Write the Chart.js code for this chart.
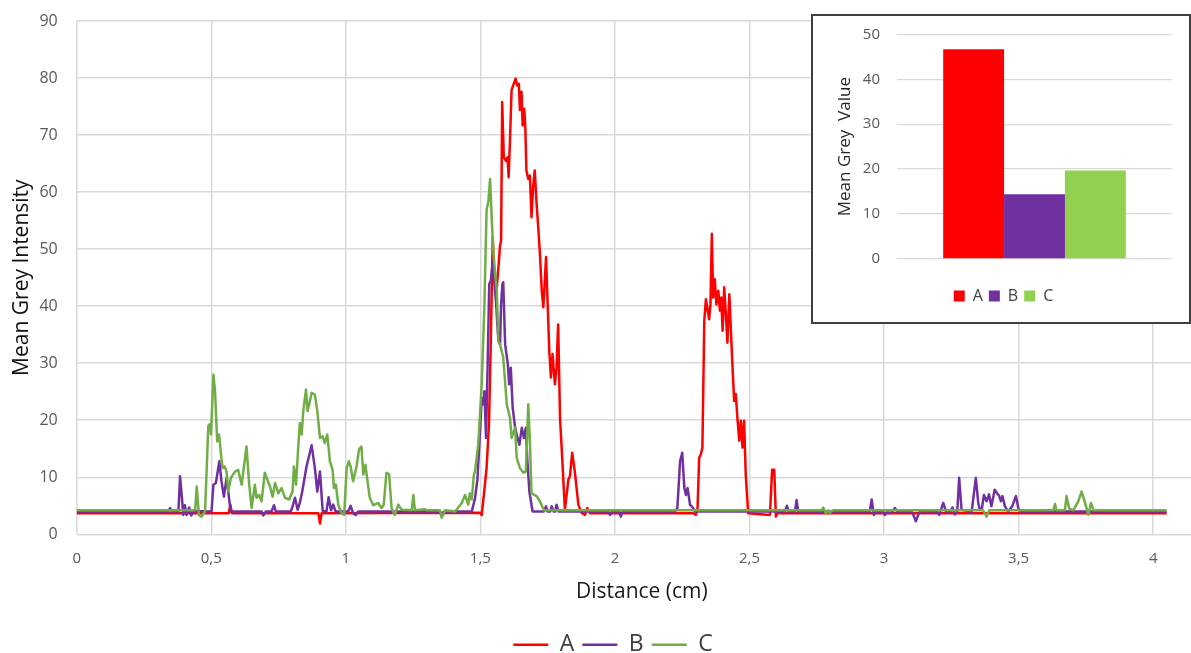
<!DOCTYPE html>
<html>
<head>
<meta charset="utf-8">
<title>Mean grey intensity profile</title>
<script src="https://cdn.jsdelivr.net/npm/chart.js@4/dist/chart.umd.min.js"></script>
<style>
    html, body { margin: 0; background: #fff; overflow: hidden; }
    #page { position: relative; width: 1191px; height: 653px; overflow: hidden; }
    #page canvas { display: block; }
    #insetBox {
        position: absolute; left: 811px; top: 14px;
        width: 376px; height: 306px;
        border: 2px solid #3f3f3f; background: #fff;
    }
</style>
</head>
<body>
<div id="page">
    <!-- plot runs a little past the right edge of the page -->
    <canvas id="chartProfile" width="1207" height="653"></canvas>
    <div id="insetBox"><canvas id="chartMean" width="376" height="306"></canvas></div>
</div>
<script>
// profile samples: [distance (cm), mean grey intensity]
const profileA = [
    [0, 3.7], [0.565, 3.7], [0.571, 5.2], [0.577, 3.7], [0.898, 3.7], [0.904, 1.9], [0.91, 3.7],
    [1.499, 3.8], [1.505, 3.4], [1.513, 6.9], [1.523, 11.6], [1.532, 19.3], [1.538, 32.2], [1.546, 52.1],
    [1.552, 44.5], [1.560, 42.7], [1.569, 48.0], [1.573, 50.6], [1.577, 51.5], [1.581, 75.8], [1.587, 66.1],
    [1.595, 65.5], [1.601, 66.1], [1.605, 62.6], [1.610, 69.1], [1.616, 77.9], [1.622, 78.7], [1.631, 79.9],
    [1.637, 78.7], [1.643, 79.0], [1.647, 74.4], [1.653, 77.6], [1.657, 71.7], [1.663, 74.6], [1.667, 71.4],
    [1.671, 63.8], [1.678, 62.3], [1.684, 62.9], [1.690, 55.6], [1.696, 60.9], [1.702, 63.8], [1.709, 57.9],
    [1.715, 53.8], [1.721, 49.4], [1.728, 42.7], [1.734, 39.8], [1.744, 48.6], [1.750, 40.3], [1.756, 32.2],
    [1.762, 27.5], [1.768, 31.6], [1.777, 26.3], [1.783, 29.2], [1.789, 36.8], [1.796, 20.4], [1.804, 13.4],
    [1.814, 4.3], [1.827, 9.6], [1.833, 10.2], [1.841, 14.3], [1.851, 11.0], [1.864, 5.2], [1.876, 3.8],
    [1.889, 3.4], [1.897, 4.6], [1.907, 3.7],
    [2.291, 3.7], [2.301, 3.4], [2.307, 4.6], [2.313, 13.4], [2.319, 14.0], [2.325, 15.2], [2.332, 37.4],
    [2.338, 41.2], [2.344, 39.5], [2.350, 37.7], [2.355, 40.3], [2.360, 52.7], [2.365, 41.5], [2.371, 44.7],
    [2.377, 40.3], [2.384, 42.7], [2.390, 39.2], [2.395, 41.5], [2.400, 35.7], [2.406, 43.3], [2.412, 38.6],
    [2.418, 33.6], [2.425, 42.1], [2.431, 35.7], [2.437, 29.2], [2.443, 23.4], [2.449, 24.6], [2.455, 20.4],
    [2.462, 16.4], [2.468, 19.9], [2.474, 15.2], [2.480, 19.9], [2.486, 10.5], [2.495, 3.7],
    [2.576, 3.4], [2.584, 11.3], [2.592, 11.3], [2.598, 3.1], [2.603, 3.7], [4.05, 3.7]
];

const profileB = [
    [0, 4.0], [0.340, 4.0], [0.347, 4.6], [0.353, 4.0], [0.378, 4.0], [0.384, 10.2], [0.391, 6.4],
    [0.396, 3.4], [0.402, 5.1], [0.408, 3.4], [0.418, 4.7], [0.426, 3.3], [0.433, 4.1],
    [0.501, 4.0], [0.508, 8.7], [0.517, 9.0], [0.524, 11.0], [0.530, 12.8], [0.538, 9.3], [0.547, 6.6],
    [0.557, 9.9], [0.566, 6.4], [0.572, 4.0], [0.687, 4.0], [0.693, 3.3], [0.703, 4.0], [0.724, 4.0],
    [0.733, 5.1], [0.740, 4.0], [0.795, 4.0], [0.801, 4.7], [0.811, 6.4], [0.821, 4.3], [0.829, 5.5],
    [0.838, 7.5], [0.854, 11.9], [0.873, 15.6], [0.885, 11.6], [0.894, 7.5], [0.904, 11.0], [0.914, 4.1],
    [0.928, 4.0], [0.936, 6.5], [0.945, 4.2], [0.953, 5.2], [0.962, 4.0], [1.009, 4.0], [1.018, 5.0],
    [1.027, 3.7], [1.037, 3.4], [1.046, 4.0], [1.345, 4.0], [1.356, 3.4], [1.365, 4.0],
    [1.468, 4.0], [1.480, 6.3], [1.489, 9.6], [1.498, 17.4], [1.505, 23.9], [1.511, 22.8], [1.515, 25.1],
    [1.521, 16.9], [1.527, 29.8], [1.533, 43.9], [1.539, 44.5], [1.546, 48.0], [1.551, 44.5], [1.558, 40.9],
    [1.563, 36.8], [1.567, 33.9], [1.573, 33.3], [1.577, 40.3], [1.582, 43.9], [1.585, 44.2], [1.592, 33.3],
    [1.602, 29.8], [1.607, 26.3], [1.613, 29.2], [1.620, 22.2], [1.629, 18.7], [1.638, 16.9], [1.645, 15.7],
    [1.654, 18.7], [1.662, 16.9], [1.669, 18.7], [1.674, 13.4], [1.682, 7.5], [1.694, 4.0],
    [1.736, 4.0], [1.744, 4.9], [1.749, 4.0], [1.760, 4.0], [1.765, 4.9], [1.772, 4.0], [1.778, 4.0],
    [1.783, 5.2], [1.790, 4.0], [1.975, 4.0], [1.982, 3.4], [1.988, 4.0], [2.015, 4.0], [2.022, 3.1],
    [2.028, 4.0], [2.223, 4.0], [2.232, 4.6], [2.242, 12.8], [2.250, 14.3], [2.258, 8.1], [2.264, 6.9],
    [2.270, 8.1], [2.279, 5.2], [2.289, 4.7], [2.297, 4.0], [2.632, 4.0], [2.639, 5.0], [2.645, 4.0],
    [2.669, 4.0], [2.675, 6.0], [2.681, 4.0], [2.756, 4.0], [2.762, 3.7], [2.768, 4.0],
    [2.947, 4.0], [2.954, 6.1], [2.962, 3.4], [2.972, 4.0], [2.997, 4.0], [3.003, 3.4], [3.012, 4.0],
    [3.022, 3.7], [3.031, 4.0], [3.040, 4.6], [3.049, 4.0], [3.102, 4.0], [3.108, 3.5], [3.118, 2.3],
    [3.127, 3.4], [3.133, 4.0], [3.197, 4.0], [3.205, 3.4], [3.220, 5.5], [3.230, 4.0], [3.247, 4.0],
    [3.254, 4.7], [3.263, 3.5], [3.272, 4.0], [3.279, 9.9], [3.288, 4.3], [3.319, 4.0], [3.325, 3.7],
    [3.331, 6.1], [3.341, 9.9], [3.350, 5.5], [3.356, 4.3], [3.363, 4.3], [3.371, 6.9], [3.381, 5.8],
    [3.390, 7.0], [3.399, 4.9], [3.411, 7.8], [3.420, 7.2], [3.428, 6.7], [3.434, 5.8], [3.440, 6.7],
    [3.449, 4.9], [3.461, 4.0], [3.476, 4.9], [3.490, 6.7], [3.500, 4.3], [3.507, 4.0], [4.05, 4.0]
];

const profileC = [
    [0, 4.2], [0.440, 4.2], [0.446, 8.4], [0.454, 3.4], [0.464, 3.1], [0.477, 4.0], [0.489, 19.0],
    [0.495, 19.3], [0.499, 17.5], [0.508, 28.0], [0.514, 25.1], [0.522, 16.3], [0.529, 17.5], [0.535, 14.6],
    [0.542, 11.6], [0.550, 11.9], [0.557, 11.0], [0.563, 7.5], [0.573, 9.9], [0.588, 11.0], [0.600, 11.3],
    [0.613, 8.7], [0.631, 15.4], [0.641, 8.7], [0.650, 4.6], [0.662, 8.7], [0.668, 6.4], [0.678, 6.9],
    [0.687, 5.8], [0.699, 10.8], [0.708, 9.6], [0.718, 8.4], [0.728, 6.6], [0.737, 9.0], [0.749, 7.2],
    [0.761, 8.1], [0.774, 6.4], [0.790, 6.1], [0.802, 7.5], [0.807, 11.9], [0.815, 8.7], [0.823, 15.1],
    [0.829, 19.5], [0.836, 17.5], [0.842, 21.6], [0.852, 25.4], [0.858, 21.6], [0.864, 22.8], [0.873, 24.8],
    [0.885, 24.5], [0.894, 21.6], [0.904, 16.9], [0.914, 17.2], [0.922, 16.0], [0.931, 17.5], [0.941, 12.8],
    [0.951, 11.3], [0.956, 8.1], [0.963, 8.7], [0.972, 5.2], [0.984, 3.7], [0.994, 3.4], [1.003, 11.6],
    [1.011, 12.8], [1.018, 11.9], [1.027, 9.3], [1.040, 11.9], [1.049, 14.9], [1.058, 15.4], [1.065, 10.5],
    [1.073, 12.2], [1.079, 9.9], [1.089, 6.4], [1.102, 5.1], [1.120, 5.5], [1.133, 4.6], [1.141, 5.2],
    [1.151, 10.8], [1.161, 10.5], [1.170, 4.6], [1.182, 3.4], [1.195, 5.2], [1.207, 4.3], [1.245, 4.2],
    [1.251, 6.9], [1.257, 4.2], [1.294, 4.4], [1.300, 4.2], [1.350, 4.2], [1.356, 2.9], [1.369, 4.2],
    [1.406, 4.0], [1.431, 5.5], [1.443, 6.9], [1.455, 5.2], [1.461, 7.2], [1.468, 6.1], [1.476, 10.5],
    [1.480, 11.0], [1.492, 15.7], [1.505, 26.3], [1.515, 40.3], [1.523, 56.8], [1.530, 58.5], [1.536, 62.3],
    [1.542, 55.6], [1.548, 49.7], [1.554, 46.2], [1.561, 42.7], [1.567, 33.9], [1.573, 33.3], [1.585, 31.0],
    [1.598, 22.8], [1.610, 20.4], [1.616, 16.9], [1.629, 18.7], [1.635, 13.4], [1.647, 11.6], [1.660, 10.8],
    [1.669, 11.0], [1.678, 22.8], [1.684, 16.4], [1.690, 7.2], [1.709, 6.7], [1.721, 5.8], [1.736, 4.2],
    [2.768, 4.2], [2.774, 4.7], [2.784, 3.7], [2.793, 4.2], [2.799, 3.8], [2.809, 4.2],
    [3.368, 4.2], [3.381, 3.1], [3.391, 4.2], [3.629, 4.2], [3.635, 5.3], [3.641, 4.2], [3.672, 4.2],
    [3.678, 6.7], [3.688, 4.5], [3.703, 4.2], [3.722, 5.8], [3.734, 7.5], [3.747, 5.5], [3.759, 3.4],
    [3.769, 5.5], [3.778, 4.2], [4.05, 4.2]
];

// inset: mean grey value per sample
const sampleNames = ['A', 'B', 'C'];
const meanGrey = [46.7, 14.4, 19.7];
const lineColors = ['#ff0000', '#7030a0', '#70ad47'];
const barColors = ['#ff0000', '#7030a0', '#92d050'];

Chart.defaults.font.family = "'Open Sans', sans-serif";

const gridColor = '#d9d9d9';
const tickColor = '#595959';

function toPoints(samples) {
    return samples.map(p => ({ x: p[0], y: p[1] }));
}

// keep the wide tick padding from pushing the plot top/bottom inwards
function fixAxisWidth(width) {
    return (scale) => {
        scale.width = width;
        scale.paddingTop = 9;
        scale.paddingBottom = 9;
    };
}

const profiles = [profileA, profileB, profileC];
const profileDatasets = profiles.map((samples, i) => ({
    label: sampleNames[i],
    data: toPoints(samples),
    showLine: true,
    borderColor: lineColors[i],
    backgroundColor: lineColors[i],
    borderWidth: 2.5,
    borderJoinStyle: 'round',
    pointRadius: 0,
    tension: 0,
    order: 3 - i   // C on top, A at the bottom
}));

new Chart(document.getElementById('chartProfile'), {
    type: 'scatter',
    data: { datasets: profileDatasets },
    options: {
        responsive: false,
        animation: false,
        // left padding only re-centres the legend; the y axis width makes up for it
        layout: { padding: { top: 21, right: 0, bottom: -13.3, left: 19 } },
        plugins: {
            legend: {
                position: 'bottom',
                labels: {
                    usePointStyle: true,
                    pointStyle: 'line',
                    pointStyleWidth: 35,
                    padding: 8,
                    color: '#404040',
                    font: { size: 23 },
                    sort: (a, b) => a.datasetIndex - b.datasetIndex
                }
            },
            tooltip: { enabled: false }
        },
        scales: {
            x: {
                type: 'linear',
                min: 0,
                max: 4.2,
                afterFit: (scale) => { scale.height = 91; },
                ticks: {
                    stepSize: 0.5,
                    includeBounds: false,
                    padding: 15,
                    color: tickColor,
                    font: { size: 15 },
                    callback: (value) => String(value).replace('.', ',')
                },
                grid: { color: gridColor, lineWidth: 1.5, drawTicks: false },
                border: { display: false },
                title: {
                    display: true,
                    text: 'Distance (cm)',
                    color: '#1a1a1a',
                    font: { size: 21 },
                    padding: { top: 0, bottom: 20.9 }
                }
            },
            y: {
                min: 0,
                max: 90,
                afterFit: fixAxisWidth(57.7),
                ticks: { stepSize: 10, padding: 19, color: tickColor, font: { size: 16 } },
                grid: { color: gridColor, lineWidth: 1.5, drawTicks: false },
                border: { display: false },
                title: {
                    display: true,
                    text: 'Mean Grey Intensity',
                    color: '#111',
                    font: { size: 21 },
                    padding: { top: -10, bottom: 0 }
                }
            }
        }
    }
});

new Chart(document.getElementById('chartMean'), {
    type: 'bar',
    data: {
        labels: [''],
        datasets: sampleNames.map((name, i) => ({
            label: name,
            data: [meanGrey[i]],
            backgroundColor: barColors[i],
            borderWidth: 0
        }))
    },
    options: {
        responsive: false,
        animation: false,
        layout: { padding: { top: 18.3, right: 17.3, bottom: 8, left: 22.3 } },
        datasets: { bar: { categoryPercentage: 0.6655, barPercentage: 1 } },
        plugins: {
            legend: {
                position: 'bottom',
                labels: { boxWidth: 11, boxHeight: 11, padding: 6, color: '#404040', font: { size: 16 } }
            },
            tooltip: { enabled: false }
        },
        scales: {
            x: {
                afterFit: (scale) => { scale.height = 23; },
                ticks: { display: false },
                grid: { display: false },
                border: { display: false }
            },
            y: {
                min: 0,
                max: 50,
                afterFit: fixAxisWidth(62),
                ticks: { stepSize: 10, padding: 17.3, color: tickColor, font: { size: 15 } },
                grid: { color: gridColor, lineWidth: 1.3, drawTicks: false },
                border: { display: false },
                title: {
                    display: true,
                    text: 'Mean Grey  Value',
                    color: '#262626',
                    font: { size: 17 },
                    padding: { top: 0, bottom: 0 }
                }
            }
        }
    }
});
</script>
</body>
</html>
